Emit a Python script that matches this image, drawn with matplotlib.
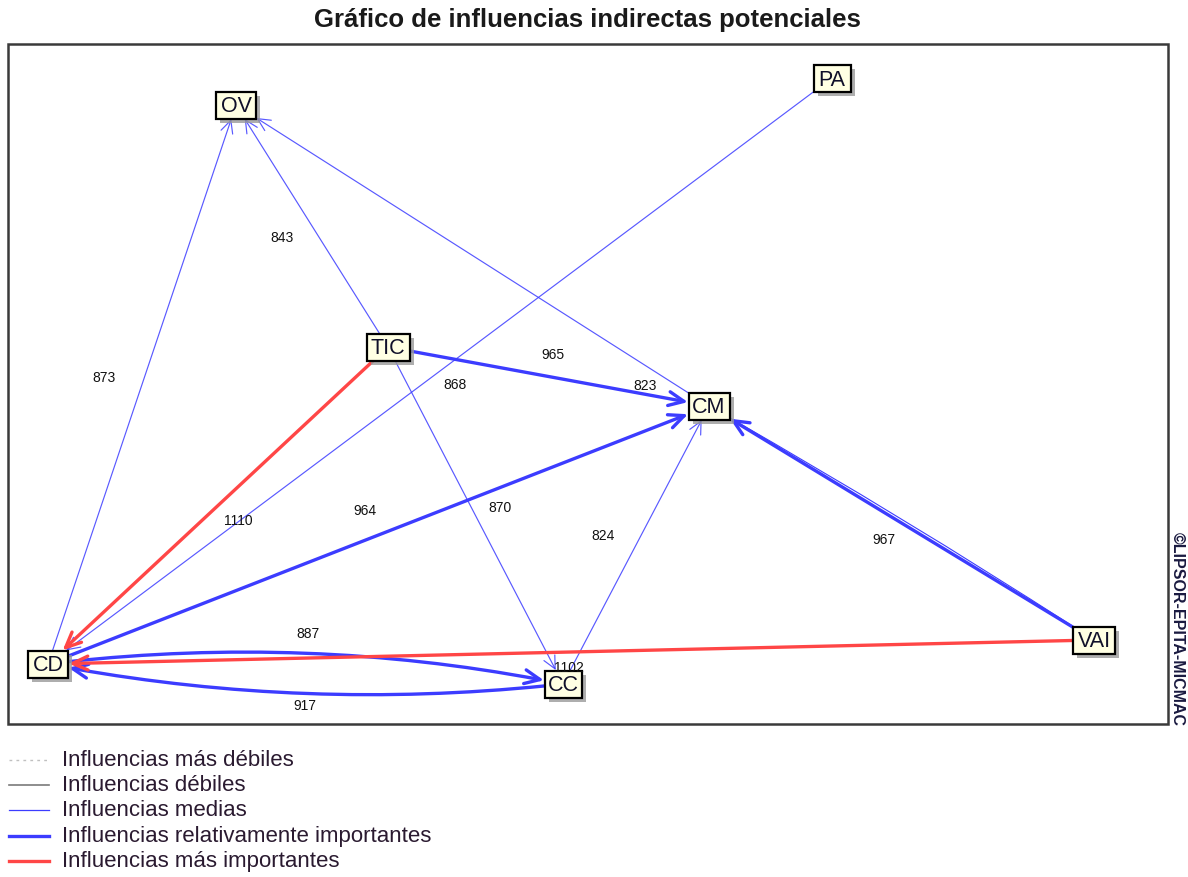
import matplotlib.pyplot as plt
from matplotlib.patches import Rectangle, FancyArrowPatch, ArrowStyle
from matplotlib.lines import Line2D

plt.rcParams['font.family'] = ['Liberation Sans', 'DejaVu Sans']

# variables (nodes) of the MICMAC graph
nodes = ['OV', 'PA', 'TIC', 'CM', 'CD', 'CC', 'VAI']

# indirect potential influences: source, target, class, value
edge_src = ['CD', 'TIC', 'CM', 'PA', 'TIC', 'TIC', 'CD', 'TIC', 'CC', 'VAI', 'VAI', 'CD', 'CC']
edge_dst = ['OV', 'OV', 'OV', 'CD', 'CD', 'CM', 'CM', 'CC', 'CM', 'CM', 'CD', 'CC', 'CD']
edge_kind = ['media', 'media', 'media', 'media', 'fuerte', 'relativa', 'relativa',
             'media', 'media', 'relativa', 'fuerte', 'relativa', 'relativa']
edge_value = [873, 843, 823, 868, 1110, 965, 964, 870, 824, 967, 1102, 887, 917]

legend_labels = ['Influencias más débiles', 'Influencias débiles', 'Influencias medias',
                 'Influencias relativamente importantes', 'Influencias más importantes']

# ---- layout (pixel coordinates of the original picture) ----
node_pos = {'OV': (236, 106), 'PA': (832, 79), 'TIC': (388, 348), 'CM': (709, 407),
            'CD': (48, 665), 'CC': (563, 685), 'VAI': (1094, 641)}
node_w = {'OV': 40, 'PA': 37, 'TIC': 43, 'CM': 41, 'CD': 40, 'CC': 37, 'VAI': 42}
node_h = 27
label_pos = [(104, 378), (282, 238), (645, 386), (455, 385), (238, 521), (553, 355),
             (365, 511), (500, 508), (603, 536), (884, 540), (569, 668), (308, 634), (305, 706)]
edge_curve = [0, 0, 0, 0, 0, 0, 0, 0, 0, 0, 0, -0.08, -0.075]

blue = '#3c3cff'
red = '#ff4646'
styles = {
    'media': dict(color=blue, lw=0.85, alpha=0.85, head=(0.45, 0.22)),
    'relativa': dict(color=blue, lw=2.4, alpha=1.0, head=(0.55, 0.25)),
    'fuerte': dict(color=red, lw=2.4, alpha=1.0, head=(0.55, 0.25)),
}

fig = plt.figure(figsize=(11.88, 8.78), dpi=100)
ax = fig.add_axes([0, 0, 1, 1])
ax.set_xlim(0, 1188)
ax.set_ylim(878, 0)
ax.axis('off')

ax.text(587, 20, 'Gráfico de influencias indirectas potenciales', ha='center', va='center',
        fontsize=18.5, fontweight='bold', color='#1a1a1a')

# frame of the graph area
ax.add_patch(Rectangle((8, 45), 1160, 680, fill=False, ec='#3a3a3a', lw=1.8, zorder=1))

# node boxes (needed first so the edges can be clipped to them)
boxes = {}
for n in nodes:
    x, y = node_pos[n]
    w = node_w[n]
    ax.add_patch(Rectangle((x - w / 2 + 4, y - node_h / 2 + 4), w, node_h,
                           fc='#9a9a9a', ec='none', alpha=0.8, zorder=5))
    box = Rectangle((x - w / 2, y - node_h / 2), w, node_h, fc='#ffffe3', ec='black',
                    lw=1.6, zorder=6)
    ax.add_patch(box)
    boxes[n] = box
    ax.text(x, y + 1, n, ha='center', va='center', fontsize=15.5, color='#10102a', zorder=7)

# thin companion line along VAI -> CM
ax.add_patch(FancyArrowPatch(node_pos['VAI'], node_pos['CM'], patchA=boxes['VAI'],
                             patchB=boxes['CM'], connectionstyle='arc3,rad=0.015',
                             arrowstyle='-', color=blue, lw=0.8, zorder=3))

for s, d, k, v, lp, rad in zip(edge_src, edge_dst, edge_kind, edge_value, label_pos, edge_curve):
    st = styles[k]
    hl, hw = st['head']
    arr = FancyArrowPatch(node_pos[s], node_pos[d], patchA=boxes[s], patchB=boxes[d],
                          shrinkA=0, shrinkB=1,
                          connectionstyle=f'arc3,rad={rad}',
                          arrowstyle=ArrowStyle('->', head_length=hl, head_width=hw),
                          mutation_scale=20, color=st['color'], lw=st['lw'],
                          alpha=st['alpha'], zorder=4 if k == 'fuerte' else 3)
    ax.add_patch(arr)
    ax.text(lp[0], lp[1], str(v), ha='center', va='center', fontsize=10, color='#111111',
            zorder=8)

# copyright
ax.text(1177, 629, '©LIPSOR-EPITA-MICMAC', rotation=270, ha='center', va='center',
        fontsize=11.5, fontweight='bold', color='#1a1a40')

# legend
leg_y = [761, 786, 811, 837, 862]
leg_style = [dict(color='#c0c0c0', lw=1.0, ls=(0, (2, 3))),
             dict(color='#7a7a7a', lw=1.2, ls='-'),
             dict(color=blue, lw=0.9, ls='-'),
             dict(color=blue, lw=2.4, ls='-'),
             dict(color=red, lw=2.4, ls='-')]
for y, lab, st in zip(leg_y, legend_labels, leg_style):
    ax.add_line(Line2D([9, 49], [y, y], **st))
    ax.text(62, y, lab, ha='left', va='center', fontsize=16, color='#2a1a30')

fig.savefig('out.png', dpi=100)
